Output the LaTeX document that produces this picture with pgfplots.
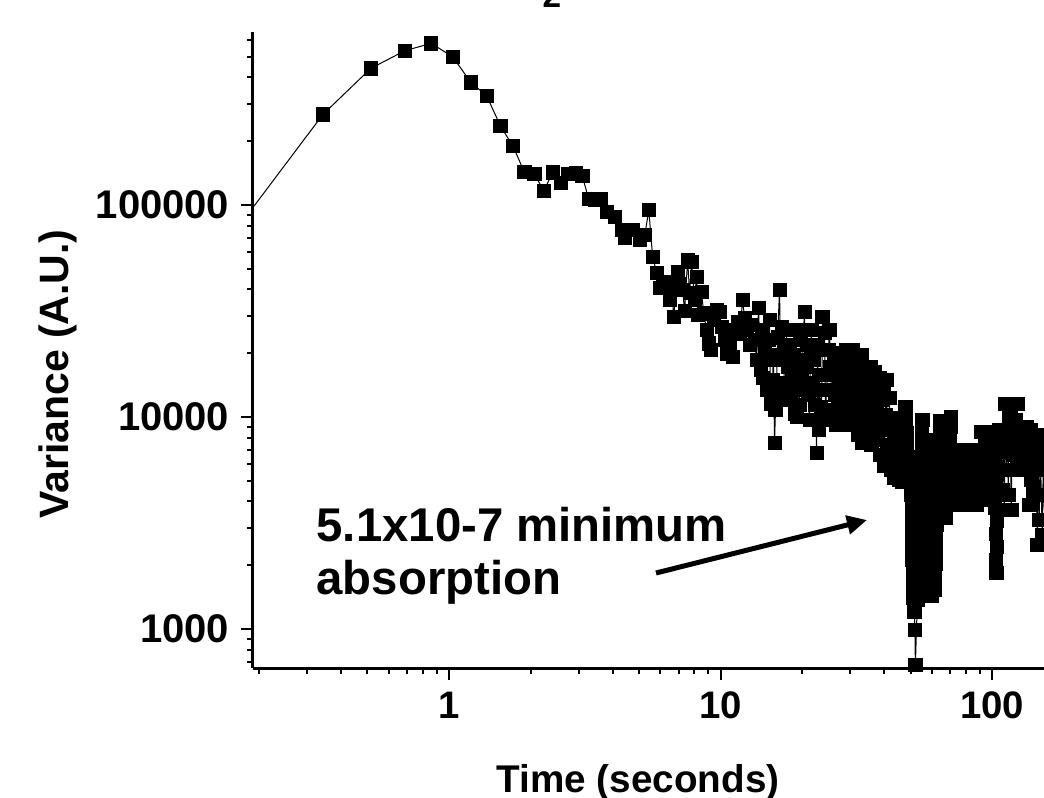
\documentclass[border=0pt]{standalone}
\usepackage{fontspec}
\setmainfont{Liberation Sans}
\usepackage{pgfplots}
\pgfplotsset{compat=1.18}
\usetikzlibrary{arrows.meta,calc}

\begin{document}
\begin{tikzpicture}
\begin{axis}[
  xmode=log, ymode=log, scale only axis,
  width=237.3pt, height=190.8pt,
  xmin=0.19, xmax=155, ymin=655, ymax=655000,
  axis x line*=bottom, axis y line*=left,
  axis line style={line width=0.9pt},
  tick align=outside, major tick length=3.6pt, minor tick length=1.8pt,
  every tick/.style={line width=0.6pt, black},
  xtick={1,10,100}, xticklabels={1,10,100},
  minor xtick={0.2,0.3,0.4,0.5,0.6,0.7,0.8,0.9,2,3,4,5,6,7,8,9,20,30,40,50,60,70,80,90},
  ytick={1000,10000,100000}, yticklabels={1000,10000,100000},
  minor ytick={700,800,900,2000,3000,4000,5000,6000,7000,8000,9000,
    20000,30000,40000,50000,60000,70000,80000,90000,200000,300000,400000,500000,600000},
  xticklabel style={font=\fontsize{11.5}{13}\selectfont\bfseries},
  yticklabel style={font=\fontsize{12}{14}\selectfont\bfseries},
]
\addplot[black, line width=0.3pt, mark=square*, mark size=2pt,
  mark options={fill=black, draw=black, line width=0.2pt}] coordinates {
(0.172,82200) (0.344,267800) (0.516,441500) (0.688,534400) (0.860,579000) (1.032,500600)
(1.204,379000) (1.376,327800) (1.548,235800) (1.720,189800) (1.892,143600) (2.064,140100)
(2.236,116400) (2.408,142700) (2.580,127400) (2.752,140100) (2.924,142000) (3.096,137000)
(3.27,106700) (3.44,105600) (3.62,106700) (3.81,92700) (4.08,87800) (4.33,76200) (4.44,69900)
(4.75,76200) (5.04,68400) (5.26,72200)
(5.44,94700) (5.62,56900) (5.82,47800) (5.97,40600) (6.12,42900) (6.33,43300) (6.49,35600)
(6.61,39700) (6.72,29600) (6.95,48300) (7.07,42400) (7.25,39700) (7.37,31600) (7.56,55000)
(7.69,38500) (7.82,53900) (8.02,35600) (8.16,45800) (8.23,30300) (8.51,38900) (8.66,30900)
(8.88,25700) (9.04,22300) (9.19,20700) (9.42,28700) (9.67,32000) (9.92,31300) (10.08,26600)
(10.34,23100) (10.52,20000) (10.79,22300) (11.07,19200) (11.26,25700) (11.55,28100)
(11.75,24600) (12.05,35600) (12.25,29300) (12.46,25700) (12.79,21900) (13.01,27200)
(13.34,23100) (13.57,18600)
(13.79,32700) (14.03,16700) (14.15,25730) (14.27,15300) (14.51,20700) (14.63,18580)
(14.76,13400) (15.01,23100) (15.14,28680) (15.27,11600) (15.52,15000) (15.66,19610)
(15.79,7540) (15.92,10790) (16.06,13000) (16.20,23800) (16.48,39700) (16.62,18580)
(16.76,26600) (17.05,20700) (17.19,12030) (17.34,14500) (17.48,25730) (17.63,17200)
(17.93,21900) (18.08,12700) (18.24,15800) (18.39,19610) (18.71,10400) (18.87,25730)
(19.03,10000) (19.19,16660) (19.35,13400) (19.51,11390) (19.68,23100) (19.84,14950)
(20.02,18600) (20.19,25730) (20.36,31300) (20.53,13410) (20.71,17200) (20.88,21860)
(21.06,12700) (21.24,9680) (21.42,20700) (21.60,25730) (21.79,14500) (21.97,18580)
(22.16,11400) (22.35,13410) (22.54,6760) (22.73,21860) (22.93,8690) (23.12,15780)
(23.32,11100) (23.51,9680) (23.71,29600) (23.92,20710) (24.12,24900) (24.32,10790)
(24.53,13400) (24.74,15780) (24.95,20700) (25.16,25730) (25.37,17200) (25.59,13410)
(25.81,10800) (26.03,9680)
(26.25,20050) (26.47,12700) (26.70,9170) (26.93,17210) (27.15,10910) (27.38,14790)
(27.61,20050) (27.85,9890) (28.09,13710) (28.33,17590) (28.57,9170) (28.81,12030)
(29.06,20710) (29.30,15780) (29.55,10560) (29.80,18180) (30.05,13410) (30.31,9170)
(30.57,20710) (30.83,11390) (31.09,15280) (31.35,9680) (31.62,18580) (31.89,12700)
(32.16,8225) (32.43,16660) (32.71,10790) (32.98,19610) (33.26,7540) (33.55,14160)
(33.83,9170) (34.12,17030) (34.41,12030) (34.70,7790) (35.00,14950) (35.30,10220)
(35.60,17210) (35.90,7380) (36.21,13120) (36.51,8880) (36.83,16300) (37.14,11030)
(37.46,7790) (37.78,14160) (38.10,9680) (38.42,15280) (38.75,6620) (39.08,12030)
(39.41,8685) (39.74,13710) (40.08,5870) (40.42,10220) (40.77,14950) (41.11,7380)
(41.46,6270) (41.81,12290) (42.17,8685) (42.53,5623) (42.89,9890) (43.25,6840)
(43.62,5155) (43.99,7960) (44.37,9680) (44.74,5937) (45.12,7380) (45.50,5045)
(45.89,8685) (46.28,5623) (46.68,4937) (47.07,6620)
(47.88,11150) (48.08,9680) (48.29,8404) (48.50,7300) (48.70,6338) (48.90,5503) (49.11,4937)
(50.38,4287) (50.47,3720) (50.55,3230) (50.64,2804) (50.72,2436) (50.81,2116) (50.90,1837)
(50.98,1595) (51.24,1401) (51.67,1203) (51.89,989) (52.11,676)
(53.00,1371) (53.22,1578) (53.45,1817) (53.59,2093) (53.72,2410) (53.90,2776) (54.04,3195)
(54.18,3680) (54.36,4240) (54.50,4882) (54.64,5623) (54.82,6477) (54.96,7458) (55.10,8591)
(55.29,9680)
(57.68,7790) (57.83,6764) (57.97,5870) (58.17,5100) (58.32,4429) (58.46,3845) (58.66,3338)
(58.81,2899) (58.96,2517) (59.16,2186) (59.31,1898) (59.46,1648) (59.66,1432)
(61.46,1528) (61.61,1759) (61.72,2026) (61.88,2334) (62.03,2687) (62.24,3095) (62.51,3563)
(62.77,4105) (63.04,4727) (63.31,5444) (63.58,6270) (63.85,7221) (64.12,8313) (64.39,9576)
(65.49,8685) (65.77,7540) (66.05,6548) (66.33,5680) (66.61,4937) (66.90,4287) (67.18,3720)
(67.46,3338)
(68.32,3845) (68.61,4429) (68.90,5100) (69.19,5870) (69.49,6764) (69.78,7790) (70.08,8974)
(70.38,10000)
(70.68,6990) (71.28,4882) (71.88,3845) (72.49,6202) (73.11,4334) (73.73,5503) (74.36,6990)
(74.99,3845) (75.63,4882) (76.27,6202) (76.92,4334) (77.57,5503) (78.23,6990) (78.90,3845)
(79.57,4882) (80.25,6202) (80.93,4334) (81.61,5503) (82.30,6990) (83.00,3845) (83.71,4882)
(84.42,6202) (85.14,4334) (85.87,5503) (86.60,6990) (87.34,3845) (88.08,4882) (88.83,6202)
(89.58,4334) (90.34,5503)
(91.11,8499) (91.88,4675) (92.66,6270) (93.46,4060) (94.25,7300) (95.05,5384) (95.86,8499)
(96.68,4060) (97.50,6270) (98.33,4675) (99.17,7300) (100.0,5384) (100.9,8499)
(101.7,6548) (102.05,4937) (102.4,3720) (102.75,2804) (103.1,2116) (103.4,1837) (103.75,2436)
(104.1,3230) (104.45,4287) (104.8,5680) (105.2,7540) (105.55,8685)
(106.1,3642) (107.0,5623) (107.9,8499) (108.8,4526) (109.8,6840)
(110.7,3642) (111.6,11510) (112.6,5623) (113.5,8685) (114.5,4287) (115.5,10000) (116.5,6990)
(117.5,3642) (118.5,11510) (119.5,7790) (120.5,5623) (121.5,9680) (122.6,6620) (123.6,11510)
(124.6,5937) (125.7,8685)
(126.8,5623) (127.9,8974) (129.0,6990) (130.0,6270) (131.1,7960) (132.3,5623) (133.4,8974)
(134.5,6620) (135.7,7623)
(136.8,3845) (138.0,8685) (139.2,5045) (140.4,6620) (141.6,4382) (142.7,7623) (144.0,5809)
(145.2,8225) (146.4,2490) (147.7,5623) (148.9,3267) (150.2,7144) (151.5,4287) (152.8,2776)
(154.1,6270) (155.4,3642) (156.7,4778) (158.0,7790)
};
\end{axis}
\node[rotate=90, font=\fontsize{12.3}{14}\selectfont\bfseries]
  at ($(current axis.south west)+(-58.5pt,88.2pt)$) {Variance (A.U.)};
\node[anchor=base, font=\fontsize{11.6}{14}\selectfont\bfseries]
  at ($(current axis.south west)+(115.5pt,-37.2pt)$) {Time (seconds)};
\node[anchor=base west, inner sep=0pt, font=\fontsize{14.2}{16}\selectfont\bfseries]
  at ($(current axis.south west)+(18.9pt,38.1pt)$) {5.1x10-7 minimum};
\node[anchor=base west, inner sep=0pt, font=\fontsize{14.2}{16}\selectfont\bfseries]
  at ($(current axis.south west)+(18.9pt,22.2pt)$) {absorption};
\draw[line width=1.5pt, -{Triangle[length=6pt,width=5.5pt]}]
  ($(current axis.south west)+(120.9pt,28.5pt)$) -- ($(current axis.south west)+(184.2pt,44.4pt)$);
\node[anchor=base, inner sep=0pt, font=\fontsize{10}{12}\selectfont\bfseries]
  at ($(current axis.south west)+(89.7pt,198pt)$) {2};
\pgfresetboundingbox
\path ($(current axis.south west)+(-75.9pt,-38.7pt)$) rectangle ($(current axis.north east)+(0pt,9.6pt)$);
\end{tikzpicture}
\end{document}
